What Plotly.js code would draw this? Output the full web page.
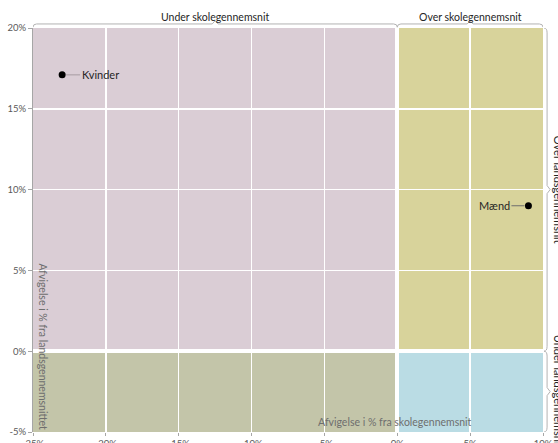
<!DOCTYPE html>
<html>
<head>
<meta charset="utf-8">
<script src="https://cdn.plot.ly/plotly-3.0.1.min.js"></script>
<style>html,body{margin:0;padding:0;background:#fff;} #chart{width:558px;height:443px;}</style>
</head>
<body>
<div id="chart"></div>
<script>
// Data
const categories = ['Kvinder', 'Mænd'];
const skoleAfvigelse = [-23, 9];     // x: afvigelse i % fra skolegennemsnit
const landsAfvigelse = [17.1, 9];    // y: afvigelse i % fra landsgennemsnittet
const labelOffsets = [38, -34];
const xRange = [-25, 10];
const yRange = [-5, 20];
const xTicks = [-25, -20, -15, -10, -5, 0, 5, 10];
const yTicks = [-5, 0, 5, 10, 15, 20];
const quadrantColors = {tl: '#dacdd5', tr: '#d8d39b', bl: '#c3c5a9', br: '#badce4'};

const FONT = 'Lato, "Open Sans", sans-serif';

const trace = {
  type: 'scatter', mode: 'markers',
  x: skoleAfvigelse, y: landsAfvigelse, text: categories,
  marker: {color: '#000', size: 7},
  hoverinfo: 'text', showlegend: false
};

function rect(x0, x1, y0, y1, color) {
  return {type: 'rect', xref: 'x', yref: 'y', x0: x0, x1: x1, y0: y0, y1: y1,
    fillcolor: color, line: {width: 0}, layer: 'below'};
}

// horizontal brace above plot (x data, y paper)
function hBrace(x1, x2, yp) {
  const d = 0.25, h = 0.008, xm = (x1 + x2) / 2;
  return {type: 'path', xref: 'x', yref: 'paper', layer: 'above',
    path: `M ${x1},${yp - h} Q ${x1},${yp} ${x1 + d},${yp} L ${xm - 0.2},${yp} L ${xm},${yp + h} L ${xm + 0.2},${yp} L ${x2 - d},${yp} Q ${x2},${yp} ${x2},${yp - h}`,
    line: {color: '#b3b3b3', width: 1}};
}
// vertical brace right of plot (x paper, y data)
function vBrace(y1, y2, xp) {
  const d = 0.3, w = 0.006, ym = (y1 + y2) / 2;
  return {type: 'path', xref: 'paper', yref: 'y', layer: 'above',
    path: `M ${xp - w},${y1} Q ${xp},${y1} ${xp},${y1 - d} L ${xp},${ym + 0.25} L ${xp + w},${ym} L ${xp},${ym - 0.25} L ${xp},${y2 + d} Q ${xp},${y2} ${xp - w},${y2}`,
    line: {color: '#b3b3b3', width: 1}};
}

const shapes = [
  rect(xRange[0], 0, 0, yRange[1], quadrantColors.tl),
  rect(0, xRange[1], 0, yRange[1], quadrantColors.tr),
  rect(xRange[0], 0, yRange[0], 0, quadrantColors.bl),
  rect(0, xRange[1], yRange[0], 0, quadrantColors.br),
  hBrace(xRange[0], 0, 1.01),
  hBrace(0, xRange[1], 1.01),
  vBrace(yRange[1], 0, 1.008),
  vBrace(0, yRange[0], 1.008)
];

const annotations = categories.map((c, i) => ({
  x: skoleAfvigelse[i], y: landsAfvigelse[i], xref: 'x', yref: 'y',
  text: c, showarrow: true, arrowhead: 0, arrowwidth: 1,
  arrowcolor: i === 0 ? '#a69ba1' : '#6e6e6e',
  ax: labelOffsets[i], ay: 0, standoff: 4,
  font: {family: FONT, size: 11, color: '#262626'}
}));

annotations.push(
  {text: 'Under skolegennemsnit', xref: 'x', yref: 'paper', x: -12.5, y: 1.008, xanchor: 'center', yanchor: 'bottom', showarrow: false,
   font: {family: FONT, size: 10.5, color: '#262626'}},
  {text: 'Over skolegennemsnit', xref: 'x', yref: 'paper', x: 5, y: 1.008, xanchor: 'center', yanchor: 'bottom', showarrow: false,
   font: {family: FONT, size: 10.5, color: '#262626'}},
  {text: 'Over landsgennemsnit', xref: 'paper', yref: 'y', x: 1.031, y: 10, xanchor: 'center', yanchor: 'middle', textangle: 90, showarrow: false,
   font: {family: FONT, size: 11, color: '#262626'}},
  {text: 'Under landsgennemsnit', xref: 'paper', yref: 'y', x: 1.031, y: -2.5, xanchor: 'center', yanchor: 'middle', textangle: 90, showarrow: false,
   font: {family: FONT, size: 11, color: '#262626'}},
  {text: 'Afvigelse i % fra skolegennemsnit', xref: 'paper', yref: 'paper', x: 0.71, y: 0.005, xanchor: 'center', yanchor: 'bottom', showarrow: false,
   font: {family: FONT, size: 10.5, color: '#6e6e6e'}},
  {text: 'Afvigelse i % fra landsgennemsnittet', xref: 'paper', yref: 'paper', x: 0.004, y: 0.0, xanchor: 'left', yanchor: 'bottom', textangle: 90, showarrow: false,
   font: {family: FONT, size: 10.5, color: '#6e6e6e'}}
);

const layout = {
  width: 558, height: 443,
  margin: {l: 33, r: 15, t: 28, b: 11, pad: 0},
  paper_bgcolor: '#fff', plot_bgcolor: '#fff',
  font: {family: FONT, size: 9, color: '#595959'},
  xaxis: {range: xRange, tickvals: xTicks, ticktext: xTicks.map(v => v + '%'),
    showgrid: true, gridcolor: '#ffffff', gridwidth: 1.5,
    zeroline: true, zerolinecolor: '#ffffff', zerolinewidth: 4,
    showline: false, ticks: 'outside', ticklen: 3, tickcolor: '#a6a6a6',
    tickfont: {family: FONT, size: 9.5, color: '#595959'}, fixedrange: true},
  yaxis: {range: yRange, tickvals: yTicks, ticktext: yTicks.map(v => v + '%'),
    showgrid: true, gridcolor: '#ffffff', gridwidth: 1.5,
    zeroline: true, zerolinecolor: '#ffffff', zerolinewidth: 4,
    showline: true, linecolor: '#a6a6a6', linewidth: 1,
    ticks: 'outside', ticklen: 4, tickcolor: '#a6a6a6',
    tickfont: {family: FONT, size: 9.5, color: '#595959'}, fixedrange: true},
  shapes: shapes,
  annotations: annotations,
  showlegend: false
};

Plotly.newPlot('chart', [trace], layout, {displayModeBar: false, staticPlot: true});
</script>
</body>
</html>
